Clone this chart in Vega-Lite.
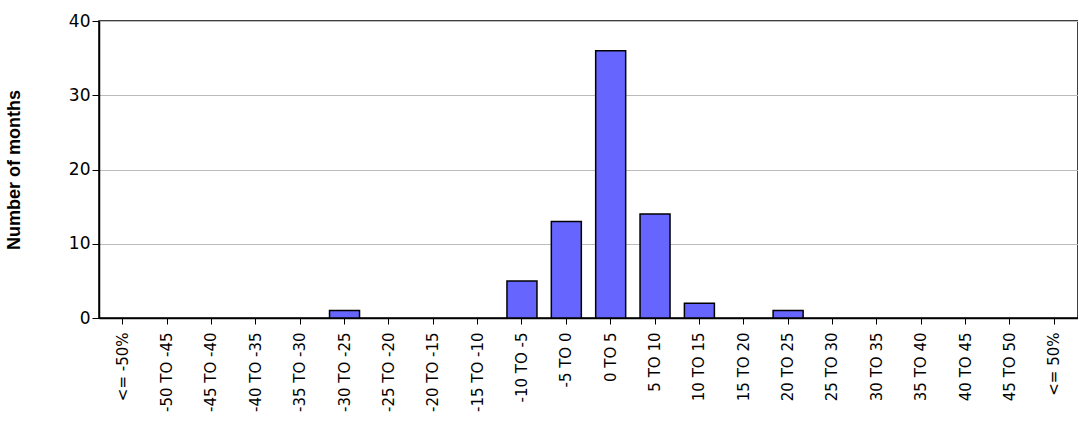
{"$schema":"https://vega.github.io/schema/vega-lite/v6.json","width":979,"height":297,"padding":{"left":5,"top":12,"right":0,"bottom":0},"background":"white",
"data":{"values":[{"c":"<= -50%","v":0},{"c":"-50 TO -45","v":0},{"c":"-45 TO -40","v":0},{"c":"-40 TO -35","v":0},{"c":"-35 TO -30","v":0},{"c":"-30 TO -25","v":1},{"c":"-25 TO -20","v":0},{"c":"-20 TO -15","v":0},{"c":"-15 TO -10","v":0},{"c":"-10 TO -5","v":5},{"c":"-5 TO 0","v":13},{"c":"0 TO 5","v":36},{"c":"5 TO 10","v":14},{"c":"10 TO 15","v":2},{"c":"15 TO 20","v":0},{"c":"20 TO 25","v":1},{"c":"25 TO 30","v":0},{"c":"30 TO 35","v":0},{"c":"35 TO 40","v":0},{"c":"40 TO 45","v":0},{"c":"45 TO 50","v":0},{"c":"<= 50%","v":0}]},
"mark":{"type":"bar","color":"#6666FF","stroke":"black","width":30},
"encoding":{"strokeWidth":{"condition":{"test":"datum.v > 0","value":1.5},"value":0},
"x":{"field":"c","type":"nominal","sort":null,"scale":{"paddingInner":0.33,"paddingOuter":0.2},"axis":{"title":null,"labelAngle":-90,"labelFont":"DejaVu Sans","labelFontSize":15,"labelColor":"black","domainColor":"black","domainWidth":1.5,"tickColor":"black","tickSize":6,"labelPadding":8}},
"y":{"field":"v","type":"quantitative","scale":{"domain":[0,40]},"axis":{"title":"Number of months","titleFont":"Liberation Sans","titleFontSize":18,"titleFontWeight":"bold","titleColor":"black","values":[0,10,20,30,40],"labelFont":"DejaVu Sans","labelFontSize":17,"labelColor":"black","domainColor":"black","domainWidth":1.5,"tickColor":"black","tickSize":7,"gridColor":"#bbbbbb","titlePadding":45}}},
"config":{"view":{"stroke":"black","strokeWidth":1.5}}}
